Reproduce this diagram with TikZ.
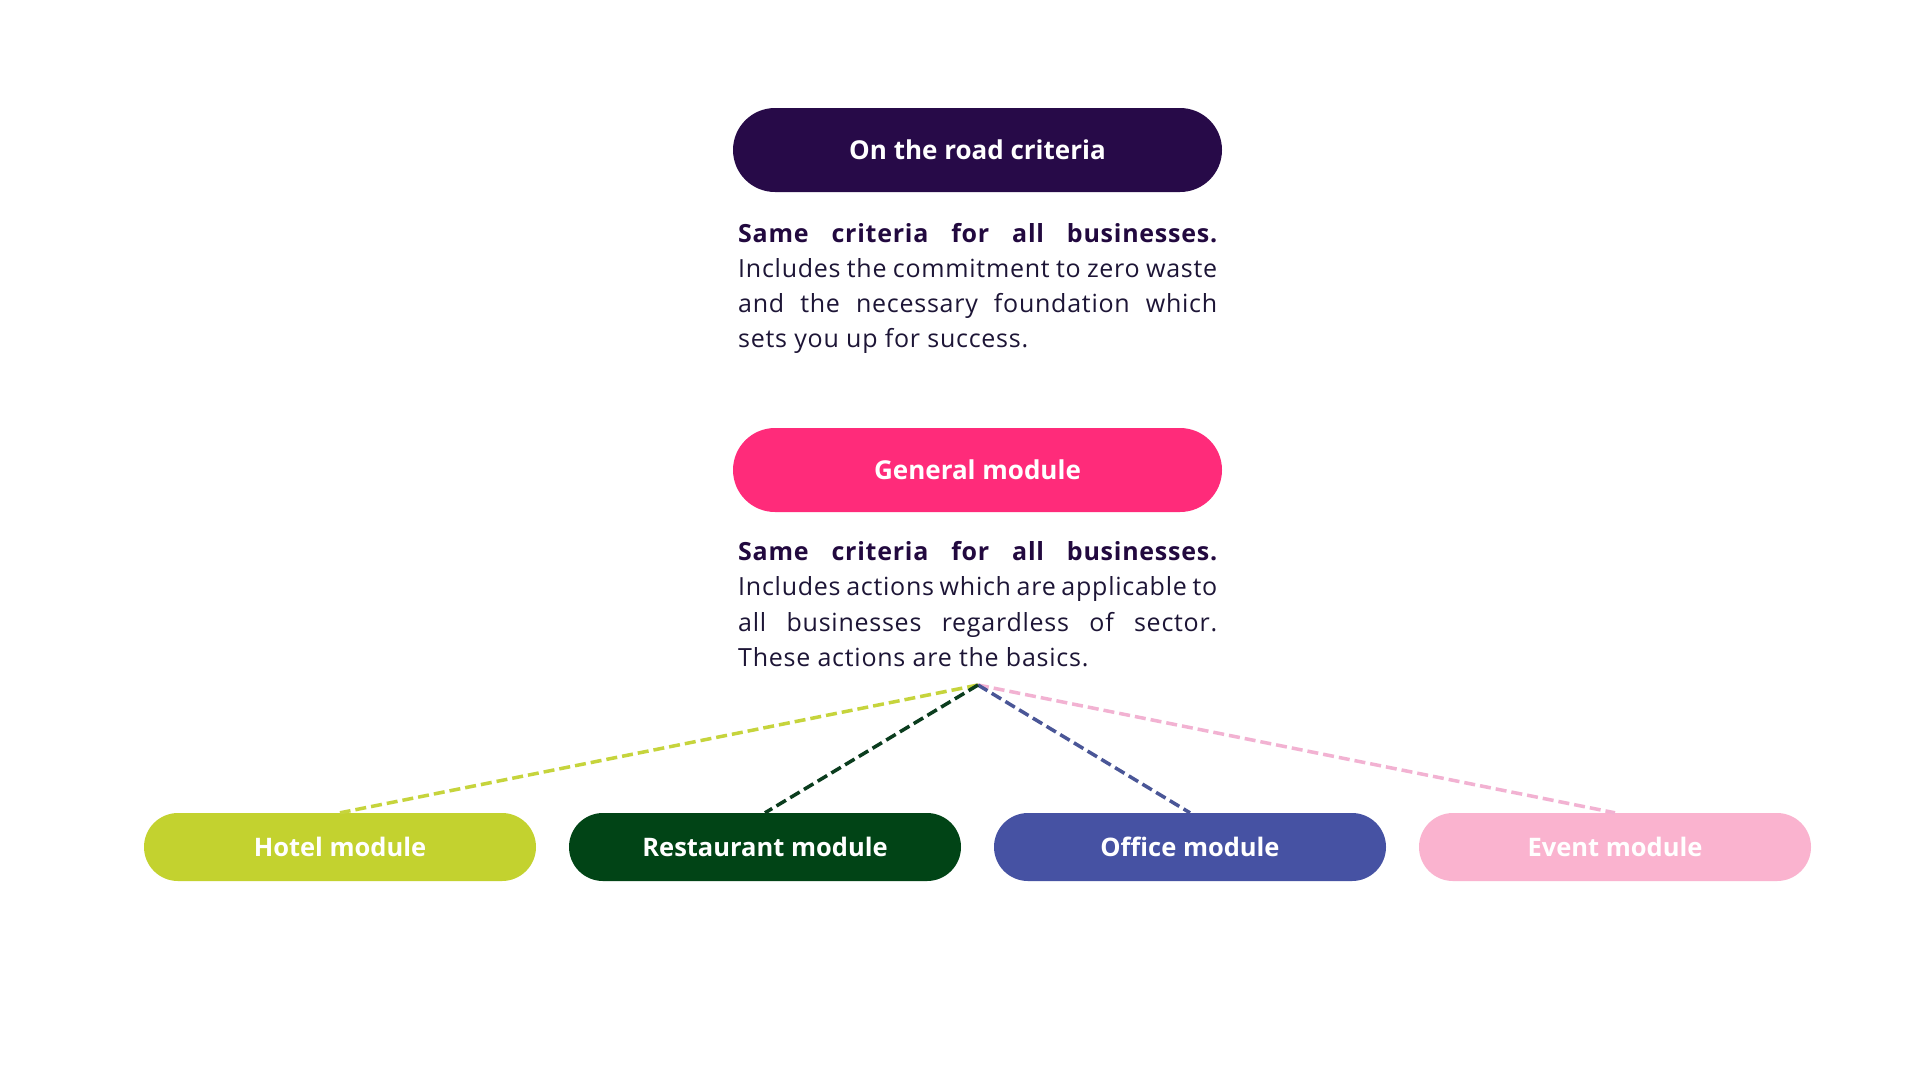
\documentclass[tikz,border=0pt]{standalone}
\usepackage{fontspec}
\setmainfont{Open Sans}
\newfontfamily\bodyfont[LetterSpace=3]{Open Sans}
\definecolor{roadc}{HTML}{270A48}
\definecolor{genc}{HTML}{FF2B7A}
\definecolor{hotelc}{HTML}{C3D22F}
\definecolor{restc}{HTML}{014416}
\definecolor{officec}{HTML}{4652A3}
\definecolor{eventc}{HTML}{FAB3CF}
\definecolor{hotell}{HTML}{C6D43C}
\definecolor{restl}{HTML}{0B3D1E}
\definecolor{officel}{HTML}{4A5697}
\definecolor{eventl}{HTML}{F2B2D2}
\definecolor{bodyc}{HTML}{1D1536}
\definecolor{boldc}{HTML}{22093F}
\begin{document}
\begin{tikzpicture}[x=1pt,y=-1pt,
  bigpill/.style={rectangle, rounded corners=42pt, minimum width=489pt, minimum height=84pt, inner sep=0pt, text=white, font=\fontsize{26}{30}\selectfont\bfseries},
  smallpill/.style={rectangle, rounded corners=34pt, minimum width=392pt, minimum height=68pt, inner sep=0pt, text=white, font=\fontsize{25.5}{30}\selectfont\bfseries},
  bodyline/.style={anchor=base west, inner sep=0pt, text=bodyc, font=\bodyfont\fontsize{25}{30}\selectfont},
  link/.style={line width=3.5pt, dash pattern=on 11pt off 5pt}
]
\useasboundingbox (0,0) rectangle (1920,1080);
\fill[white] (0,0) rectangle (1920,1080);

% top block
\node[bigpill, fill=roadc] (road) at (977.5,150) {On the road criteria};
\node[bodyline] (r1) at (738,242) {\makebox[479pt][s]{\color{boldc}\bfseries Same criteria for all businesses.}};
\node[bodyline] (r2) at (738,277) {\makebox[479pt][s]{Includes the commitment to zero waste}};
\node[bodyline] (r3) at (738,312) {\makebox[479pt][s]{and the necessary foundation which}};
\node[bodyline] (r4) at (738,347) {sets you up for success.};

% general block
\node[bigpill, fill=genc] (gen) at (977.5,470) {General module};
\node[bodyline] (g1) at (738,560) {\makebox[479pt][s]{\color{boldc}\bfseries Same criteria for all businesses.}};
\node[bodyline] (g2) at (738,595) {\makebox[479pt][s]{Includes actions which are applicable to}};
\node[bodyline] (g3) at (738,631) {\makebox[479pt][s]{all businesses regardless of sector.}};
\node[bodyline] (g4) at (738,666) {These actions are the basics.};

\coordinate (apex) at (978,685);

% modules
\node[smallpill, fill=hotelc] (hotel) at (340,847) {Hotel module};
\node[smallpill, fill=restc] (rest) at (765,847) {Restaurant module};
\node[smallpill, fill=officec] (office) at (1190,847) {Office module};
\node[smallpill, fill=eventc] (event) at (1615,847) {Event module};

% connectors
\draw[link, draw=hotell] (apex) -- (hotel.north);
\draw[link, draw=eventl] (apex) -- (event.north);
\draw[link, draw=officel] (apex) -- (office.north);
\draw[link, draw=restl] (apex) -- (rest.north);
\end{tikzpicture}
\end{document}
